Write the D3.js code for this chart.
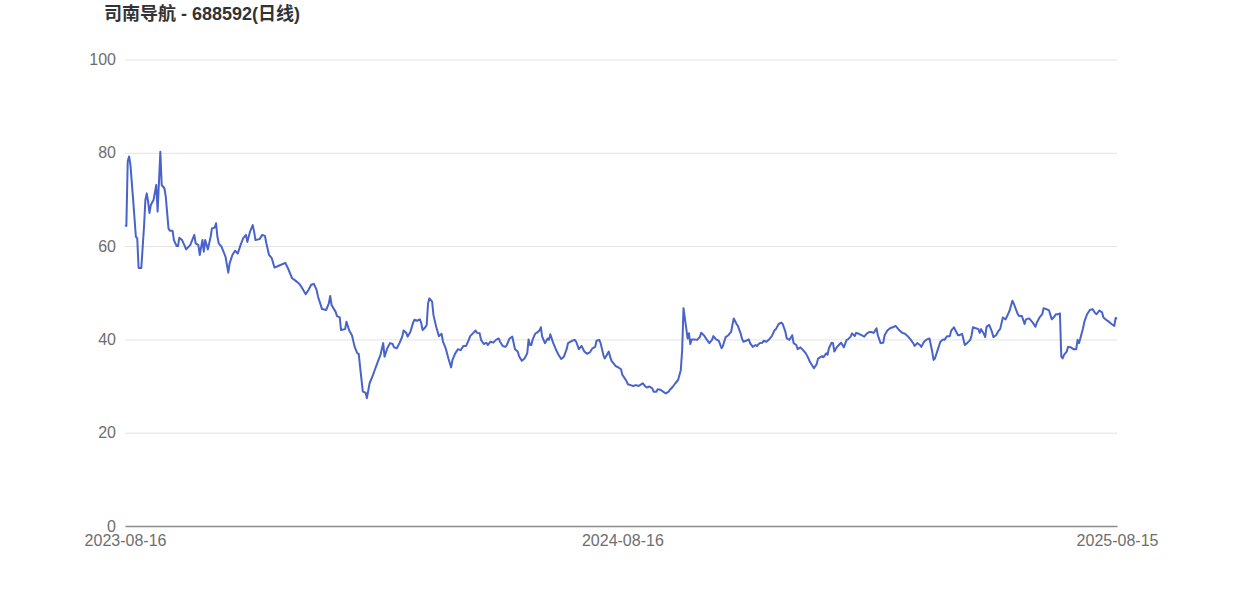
<!DOCTYPE html>
<html>
<head>
<meta charset="utf-8">
<script src="https://cdn.jsdelivr.net/npm/d3@7"></script>
<style>
  html, body { margin: 0; padding: 0; background: #ffffff; }
  svg { display: block; }
  text { font-family: "Liberation Sans", Arial, "Noto Sans CJK SC", sans-serif; }
</style>
</head>
<body>
<svg id="chart" width="1242" height="596"></svg>
<script>
const chartTitle = "司南导航 - 688592(日线)";
const startDate = "2023-08-16";
const endDate = "2025-08-15";
const xTickLabels = ["2023-08-16", "2024-08-16", "2025-08-15"];
const yTicks = [0, 20, 40, 60, 80, 100];

// calendar-day offsets from startDate
const dayOffsets = [0,1,2,3,4,6,8,9,10,12,14,15,16,17,18,19,21,23,24,26,27,29,30,32,33,35,36,38,39,40,42,44,45,48,51,52,54,55,57,58,59,61,63,64,66,67,68,69,71,74,76,77,79,81,83,85,87,89,90,92,94,95,96,99,101,103,104,106,108,110,114,118,120,123,125,128,130,133,135,137,139,141,142,145,148,150,151,152,155,156,158,159,162,163,165,167,169,171,172,173,175,177,178,180,182,184,186,188,190,191,193,195,197,198,200,202,204,205,207,208,210,212,213,215,217,218,219,221,222,223,224,226,227,229,231,233,234,236,238,240,241,243,245,247,249,251,253,254,256,258,259,261,262,264,266,267,269,271,273,275,276,278,280,281,283,285,287,289,290,292,294,296,297,298,299,300,302,303,305,306,307,309,311,312,313,315,317,319,321,323,325,326,329,331,332,334,336,338,340,342,344,346,347,349,350,352,353,354,356,357,358,360,361,363,365,366,367,369,370,372,374,376,378,379,381,383,384,386,388,389,391,392,394,396,398,400,401,403,405,407,409,410,411,413,414,415,416,417,419,421,423,424,426,428,430,432,433,435,437,439,440,442,444,446,447,448,450,451,453,454,455,457,459,460,462,464,465,467,469,470,472,474,476,478,479,481,483,484,486,487,489,491,492,494,495,497,499,501,503,504,507,509,510,513,514,516,517,518,520,521,522,524,526,527,529,531,532,534,535,537,538,540,542,544,546,548,549,551,553,554,556,558,559,561,563,565,567,568,570,572,574,576,578,580,581,583,585,586,588,590,592,594,595,596,598,600,602,603,605,607,608,610,611,613,614,616,618,620,622,623,624,626,628,629,630,632,633,634,636,638,639,641,643,644,646,648,649,651,653,654,655,657,658,660,662,663,665,666,668,670,671,673,675,676,678,680,682,684,685,687,688,689,690,691,693,694,696,698,700,701,702,703,705,706,708,710,712,714,715,717,719,720,722,724,726,728,729,730];

const closePrices = [64.5,64.3,78.2,79.2,77.4,69.9,62,61.7,55.3,55.3,64.2,69.9,71.3,69.5,67.1,68.8,69.9,73.1,67.4,80.2,73.1,72.4,70.6,63.8,63.3,63.3,61.3,60,60,61.8,61.3,60,59.3,60.2,62.4,60.6,60.2,58.1,61.3,58.8,61.3,59.3,62,63.8,64,64.9,62,60.6,59.9,57.7,54.3,56.3,58.1,59,58.4,60.2,61.7,62.4,60.9,63.1,64.5,63.1,61.3,61.5,62.4,62.2,60.6,58.1,57.4,55.4,55.9,56.4,55.2,53.1,52.7,52,51.2,49.7,50.6,51.7,51.9,50.6,49.2,46.5,46.3,47.7,49.3,47.4,45.9,45,44.7,42,42.2,43.8,41.9,40.9,38.4,37,36.9,34.1,28.8,28.6,27.4,30.6,32,33.6,35.2,36.7,39.2,36.3,38.1,39.2,39,38.3,38.1,39.2,40.6,41.9,41.4,40.6,41.6,43.6,44.2,44,44.3,43.5,42,42.6,43.1,47.7,48.8,48.1,45.2,42.7,40.7,41.2,39.5,38.1,35.9,34,35.6,37,37.9,37.7,38.6,38.6,39.9,40.7,41.3,41.9,41.4,41.3,39.9,39,39.3,38.8,39.5,39.3,39.9,40.2,39.5,38.6,38.4,38.8,40.2,40.6,37.9,37.4,36.4,35.4,35.9,37,40,38.8,38.8,40,41.3,41.4,41.9,42.6,40.6,39.2,40.2,39.9,41.1,39.3,37.9,36.7,35.8,36.3,37.9,39.2,39.7,39.9,39.5,37.9,38.6,37.4,36.9,37.2,38.1,38.4,39.7,39.9,39.2,36.7,35.9,36.4,37.4,36.3,35.4,34.7,34.3,34,33.6,32.4,32,31.1,30.4,30.2,30,30.2,30,30.2,30.6,29.9,29.7,29.9,29.5,28.8,28.8,29.3,29.2,28.8,28.4,28.8,29.2,29.8,30.6,31.3,33.4,37.7,46.7,42.4,40.2,41.3,39,40,40,39.9,40.5,41.4,40.9,40,39.2,39.9,40.7,40,39.7,38.1,38.6,40.5,40.9,41.6,43.1,44.5,43.3,42.9,41.3,40.2,39.5,39.7,40,39.2,38.4,38.8,38.6,39.2,39.3,39.7,39.5,40,40.7,42,42.2,43.3,43.6,43.3,41.6,40.2,39.9,40.9,39.2,38.8,37.9,38.3,37.7,37,35.9,35.2,33.8,34.7,35.9,36.4,36.2,37,36.7,38.1,39.3,39.2,37.4,38.4,39,39.3,38.3,39.9,40,40.6,41.3,40.7,41.4,41.2,40.9,40.6,41.3,41.6,41.6,41.4,42.4,40.9,39.2,39.3,40.9,41.9,42.4,42.6,42.9,42.6,41.9,41.4,41.2,40.7,40,39.2,38.6,39.2,38.8,38.4,39.5,40,40.2,37.4,35.6,35.9,37.7,39.5,40,39.9,40.7,40.7,41.9,42.6,42,40.9,40.9,41.2,38.8,39.3,39.9,40.9,42.6,42.4,42.2,41.4,42.2,41.2,40.5,42.7,43.1,41.6,40.5,40.9,41.9,42.2,44.7,44.3,44.9,46.2,48.3,47.7,46.9,45.4,45,45,43.3,44.3,44.5,44.3,43.6,42.7,43.6,44.7,45.4,46.7,46.5,46.2,44.3,44.9,45.4,45.4,45.6,36.3,35.9,36.7,37.4,38.4,38.3,37.9,37.9,39.9,39.2,40.2,42.4,43.8,45.4,46.3,46.5,45.6,45.4,46.2,45.8,44.7,44.2,43.8,43.3,42.9,44.6,44.4];

const parse = d3.timeParse("%Y-%m-%d");
const start = parse(startDate);
const data = dayOffsets.map((d, i) => ({ date: d3.timeDay.offset(start, d), value: closePrices[i] }));
if (dayOffsets.length !== closePrices.length) console.error("length mismatch", dayOffsets.length, closePrices.length);

const svg = d3.select("#chart");
const plotLeft = 125, plotRight = 1117, plotTop = 59.5, plotBottom = 526;

const x = d3.scaleTime().domain([parse(startDate), parse(endDate)]).range([plotLeft, plotRight]);
const y = d3.scaleLinear().domain([0, 100]).range([plotBottom, plotTop]);

// title
svg.append("text")
  .attr("x", 104).attr("y", 20)
  .attr("font-size", 18).attr("font-weight", "bold")
  .attr("fill", "#333333")
  .text(chartTitle);

// y axis with gridlines
const yAxis = svg.append("g")
  .attr("transform", `translate(${plotLeft},0)`)
  .call(d3.axisLeft(y).tickValues(yTicks).tickSize(-(plotRight - plotLeft)).tickPadding(9).tickFormat(d3.format("d")));
yAxis.select(".domain").remove();
yAxis.selectAll(".tick line").attr("stroke", "#e3e3e3").attr("stroke-width", 1)
  .filter(d => d === 0).remove();
yAxis.selectAll(".tick text").attr("font-size", 16).attr("fill", "#6e6e6e")
  .attr("font-family", "'Liberation Sans', Arial, sans-serif");

// x axis
const xAxis = svg.append("g")
  .attr("transform", `translate(0,${plotBottom})`)
  .call(d3.axisBottom(x).tickValues(xTickLabels.map(parse)).tickSize(0).tickPadding(9)
    .tickFormat(d3.timeFormat("%Y-%m-%d")));
xAxis.select(".domain").attr("stroke", "#8c8c8c").attr("stroke-width", 1.5);
xAxis.selectAll(".tick text").attr("font-size", 16).attr("fill", "#6e6e6e")
  .attr("font-family", "'Liberation Sans', Arial, sans-serif");

// line
const line = d3.line().x(d => x(d.date)).y(d => y(d.value));
svg.append("path")
  .datum(data)
  .attr("fill", "none")
  .attr("stroke", "#4863c9")
  .attr("stroke-width", 2)
  .attr("stroke-linejoin", "round")
  .attr("d", line);
</script>
</body>
</html>
